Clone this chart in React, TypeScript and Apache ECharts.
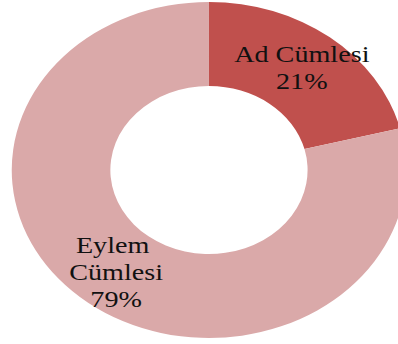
import React, { useEffect, useRef } from "react";
import * as echarts from "echarts";

const categories = ["Ad Cümlesi", "Eylem Cümlesi"];
const values = [21, 79];
const colors = ["#C0504D", "#DAA9A9"];

const STRETCH = 1.174;

export default function App() {
  const ref = useRef<HTMLDivElement>(null);
  useEffect(() => {
    if (!ref.current) return;
    const chart = echarts.init(ref.current, undefined, { renderer: "svg" });
    chart.setOption({
      animation: false,
      backgroundColor: "#ffffff",
      series: [
        {
          type: "pie",
          center: [178, 170],
          radius: [84, 168],
          startAngle: 90,
          clockwise: true,
          percentPrecision: 0,
          avoidLabelOverlap: false,
          label: {
            show: true,
            position: "inside",
            formatter: "{b}\n{d}%",
            fontFamily: "'Liberation Serif', 'Times New Roman', serif",
            fontSize: 24,
            lineHeight: 27,
            color: "#111111",
            align: "center",
          },
          labelLine: { show: false },
          itemStyle: { borderWidth: 0 },
          emphasis: { disabled: true },
          data: categories.map((name, i) => ({
            name,
            value: values[i],
            itemStyle: { color: colors[i] },
            label: i === 1 ? { width: 100, overflow: "break" } : {},
          })),
        },
      ],
    });
    return () => chart.dispose();
  }, []);
  return (
    <div
      style={{
        position: "fixed",
        left: 0,
        top: 0,
        width: 398,
        height: 344,
        overflow: "hidden",
        background: "#fff",
      }}
    >
      <div
        ref={ref}
        style={{
          width: 339,
          height: 344,
          transform: `scaleX(${STRETCH})`,
          transformOrigin: "0 0",
        }}
      />
    </div>
  );
}
